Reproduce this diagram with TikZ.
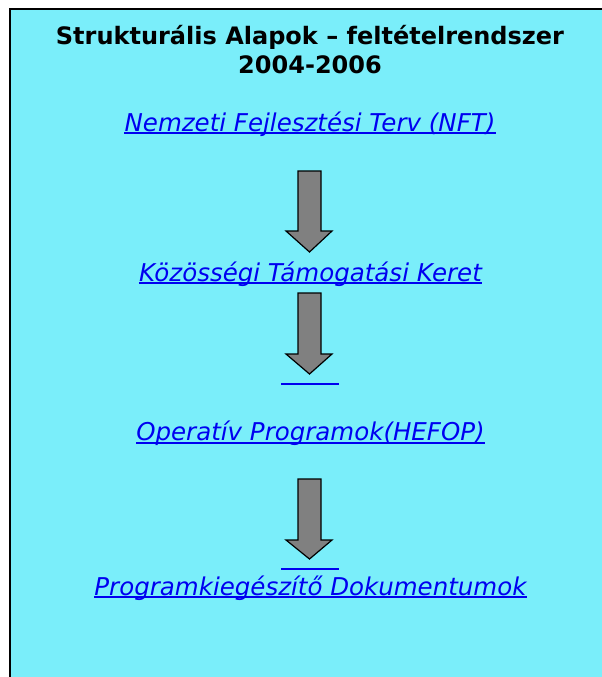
\documentclass[tikz,border=0pt]{standalone}
\usepackage{fontspec}
\setmainfont{DejaVu Sans}
\definecolor{boxfill}{RGB}{122,238,250}
\definecolor{linkblue}{RGB}{0,0,240}
\definecolor{arrowgray}{RGB}{128,128,128}
\tikzset{
  titletext/.style={font=\bfseries\fontsize{24}{29}\selectfont, inner sep=0pt, anchor=base, text=black},
  linktext/.style={font=\itshape\fontsize{24.5}{29}\selectfont, inner sep=0pt, anchor=base, text=linkblue},
  uline/.style={draw=linkblue, line width=2pt},
  blockarrow/.style={fill=arrowgray, draw=black, line width=1.2pt, line join=miter},
}
\begin{document}
\begin{tikzpicture}[x=1pt,y=-1pt]
\useasboundingbox (0,0) rectangle (602,677);
\clip (0,0) rectangle (602,677);
\fill[white] (0,0) rectangle (602,677);
\draw[fill=boxfill, draw=black, line width=2pt] (10,9) rectangle (640,720);
% title
\node[titletext] (t1) at (310,45) {Strukturális Alapok – feltételrendszer};
\node[titletext] (t2) at (310,74) {2004-2006};
% links
\node[linktext] (n1) at (310,131) {Nemzeti Fejlesztési Terv (NFT)};
\node[linktext] (n2) at (310.5,281) {Közösségi Támogatási Keret};
\node[linktext] (n3) at (310.5,440.5) {Operatív Programok(HEFOP)};
\node[linktext] (n4) at (310.5,595) {Programkiegészítő Dokumentumok};
\foreach \n in {n1,n2,n3,n4}{
  \draw[uline] ([yshift=-2.3pt]\n.base west) -- ([yshift=-2.3pt]\n.base east);
}
% short blue lines
\coordinate (l1a) at (281,384); \coordinate (l1b) at (339,384);
\coordinate (l2a) at (281,569); \coordinate (l2b) at (339,569);
\draw[uline] (l1a) -- (l1b);
\draw[uline] (l2a) -- (l2b);
% block arrows
\foreach \top/\base/\tip in {171/231/252, 293/354/374, 479/540/559}{
  \draw[blockarrow] (298,\top) -- (321,\top) -- (321,\base) -- (332,\base) -- (309.5,\tip) -- (286,\base) -- (298,\base) -- cycle;
}
\end{tikzpicture}
\end{document}
